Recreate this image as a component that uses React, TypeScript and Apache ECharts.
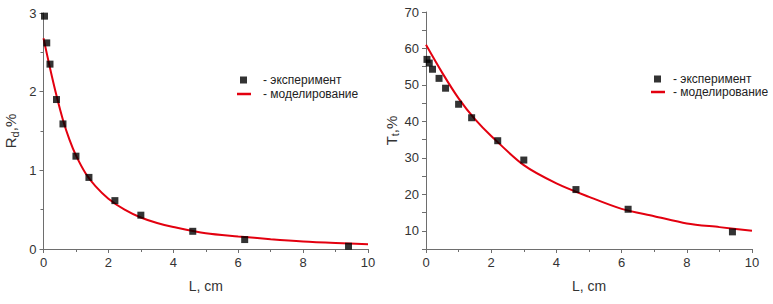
import React, { useEffect, useRef } from "react";
import * as echarts from "echarts";

// Left panel: diffuse reflectance R_d (%) vs thickness L (cm)
const expL = [0.03, 0.1, 0.2, 0.4, 0.6, 1.0, 1.4, 2.2, 3.0, 4.6, 6.2, 9.4];
const expR = [2.96, 2.62, 2.35, 1.9, 1.59, 1.18, 0.91, 0.615, 0.43, 0.225, 0.12, 0.035];
const modLR = [0, 0.2, 0.4, 0.6, 0.8, 1.0, 1.3, 1.6, 2.0, 2.5, 3.0, 3.5, 4.0, 5.0, 6.0, 7.0, 8.0, 9.0, 10.0];
const modR = [2.68, 2.3, 1.95, 1.64, 1.39, 1.19, 0.96, 0.8, 0.64, 0.5, 0.4, 0.33, 0.28, 0.2, 0.16, 0.125, 0.096, 0.076, 0.06];

// Right panel: total transmittance T_t (%) vs L (cm)
const expT = [57.0, 56.0, 54.3, 51.8, 49.1, 44.7, 41.0, 34.7, 29.4, 21.3, 15.9, 9.7];
const modLT = [0, 0.5, 1.0, 1.5, 2.0, 3.0, 4.0, 5.0, 6.0, 7.0, 8.0, 9.0, 10.0];
const modT = [61.0, 53.3, 46.3, 40.6, 36.0, 28.0, 23.0, 19.3, 16.0, 14.0, 12.0, 11.0, 10.0];

const legendExp = "эксперимент";
const legendMod = "моделирование";

const pairs = (xs: number[], ys: number[]) => xs.map((x, i) => [x, ys[i]]);

export default function App() {
  const ref = useRef<HTMLDivElement>(null);
  useEffect(() => {
    if (!ref.current) return;
    const chart = echarts.init(ref.current, null, { renderer: "svg" });
    const font = "Liberation Sans, Arial, sans-serif";
    const axisLine = { show: true, lineStyle: { color: "#6e6e6e", width: 1 } };
    const axisTick = { show: true, inside: false, length: 4, lineStyle: { color: "#6e6e6e" } };
    const minorTick = { show: true, splitNumber: 2, length: 3, lineStyle: { color: "#6e6e6e" } };
    const labelStyle = { color: "#333", fontSize: 13, fontFamily: font };
    const mkX = (gridIndex: number) => ({
      type: "value",
      gridIndex,
      min: 0,
      max: 10,
      interval: 2,
      axisLine,
      axisTick,
      minorTick,
      splitLine: { show: false },
      axisLabel: { ...labelStyle, margin: 7 },
      name: "L, cm",
      nameLocation: "middle",
      nameGap: 30,
      nameTextStyle: { color: "#333", fontSize: 14, fontFamily: font },
    });
    const nameRich = {
      a: { fontSize: 15, color: "#333", fontFamily: font, lineHeight: 18, verticalAlign: "middle" },
      b: { fontSize: 11, color: "#333", fontFamily: font, lineHeight: 18, padding: [8, 0, 0, 0], verticalAlign: "middle" },
    };
    const legendBase = {
      orient: "vertical",
      align: "left",
      padding: 0,
      itemGap: 4,
      textStyle: { color: "#222", fontSize: 12, fontFamily: font },
      formatter: (n: string) => "- " + n.trim(),
      selectedMode: false,
    };
    const option: any = {
      animation: false,
      backgroundColor: "#fff",
      grid: [
        { left: 43, top: 13, width: 325, height: 236 },
        { left: 426, top: 12, width: 326, height: 237 },
      ],
      xAxis: [mkX(0), mkX(1)],
      yAxis: [
        {
          type: "value",
          gridIndex: 0,
          min: 0,
          max: 3,
          interval: 1,
          axisLine,
          axisTick,
          minorTick,
          splitLine: { show: false },
          axisLabel: { ...labelStyle, margin: 7 },
          name: "{a|R}{b|d}{a|,%}",
          nameLocation: "middle",
          nameGap: 24,
          nameRotate: 90,
          nameTextStyle: { rich: nameRich },
        },
        {
          type: "value",
          gridIndex: 1,
          min: 5,
          max: 70,
          interval: 5,
          axisLine,
          axisTick,
          splitLine: { show: false },
          axisLabel: {
            ...labelStyle,
            margin: 7,
            formatter: (v: number) => (v % 10 === 0 ? String(v) : ""),
          },
          name: "{a|T}{b|t}{a|,%}",
          nameLocation: "middle",
          nameGap: 20,
          nameRotate: 90,
          nameTextStyle: { rich: nameRich },
        },
      ],
      legend: [
        {
          ...legendBase,
          data: [{ name: legendExp, icon: "rect" }],
          left: 240, top: 74, itemWidth: 7, itemHeight: 7,
          textStyle: { ...legendBase.textStyle, padding: [0, 0, 0, 11] },
        },
        {
          ...legendBase,
          data: [{ name: legendMod, icon: "rect" }],
          left: 237, top: 88, itemWidth: 14, itemHeight: 2.5,
          textStyle: { ...legendBase.textStyle, padding: [0, 0, 0, 7] },
        },
        {
          ...legendBase,
          data: [{ name: legendExp + " ", icon: "rect" }],
          left: 654, top: 73, itemWidth: 7, itemHeight: 7,
          textStyle: { ...legendBase.textStyle, padding: [0, 0, 0, 7] },
        },
        {
          ...legendBase,
          data: [{ name: legendMod + " ", icon: "rect" }],
          left: 651, top: 86, itemWidth: 14, itemHeight: 2.5,
          textStyle: { ...legendBase.textStyle, padding: [0, 0, 0, 3] },
        },
      ],
      series: [
        {
          name: legendMod,
          type: "line",
          xAxisIndex: 0,
          yAxisIndex: 0,
          data: pairs(modLR, modR),
          smooth: 0.3,
          showSymbol: false,
          symbol: "none",
          lineStyle: { color: "#e3000f", width: 2 },
          itemStyle: { color: "#e3000f" },
          z: 2,
        },
        {
          name: legendExp,
          type: "scatter",
          xAxisIndex: 0,
          yAxisIndex: 0,
          data: pairs(expL, expR),
          symbol: "rect",
          symbolSize: 7,
          itemStyle: { color: "#000" },
          z: 3,
        },
        {
          name: legendMod + " ",
          type: "line",
          xAxisIndex: 1,
          yAxisIndex: 1,
          data: pairs(modLT, modT),
          smooth: 0.3,
          showSymbol: false,
          symbol: "none",
          lineStyle: { color: "#e3000f", width: 2 },
          itemStyle: { color: "#e3000f" },
          z: 2,
        },
        {
          name: legendExp + " ",
          type: "scatter",
          xAxisIndex: 1,
          yAxisIndex: 1,
          data: pairs(expL, expT),
          symbol: "rect",
          symbolSize: 7,
          itemStyle: { color: "#000" },
          z: 3,
        },
      ],
    };
    chart.setOption(option);
    return () => chart.dispose();
  }, []);
  return (
    <div
      ref={ref}
      style={{ position: "fixed", left: 0, top: 0, width: 773, height: 304, background: "#fff" }}
    />
  );
}
